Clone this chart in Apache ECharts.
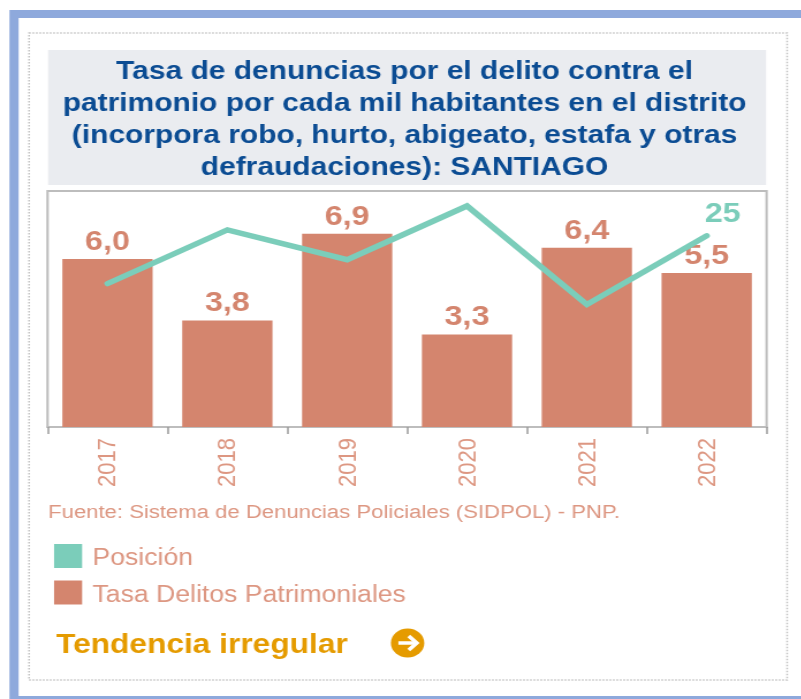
<!DOCTYPE html>
<html>
<head>
<meta charset="utf-8">
<style>
html,body{margin:0;padding:0;background:#fff;overflow:hidden;width:801px;height:699px}
#c{position:absolute;left:0;top:0;height:699px;transform-origin:0 0}
</style>
<script src="https://cdn.jsdelivr.net/npm/echarts@6/dist/echarts.min.js"></script>
</head>
<body>
<div id="c"></div>
<script>
const categories = ['2017','2018','2019','2020','2021','2022'];
const tasa = [6.0,3.8,6.9,3.3,6.4,5.5];
const posicion = [41,23,33,15,48,25];
const titleLines = [
  'Tasa de denuncias por el delito contra el',
  'patrimonio por cada mil habitantes en el distrito',
  '(incorpora robo, hurto, abigeato, estafa y otras',
  'defraudaciones): SANTIAGO'
];
const fuente = 'Fuente: Sistema de Denuncias Policiales (SIDPOL) - PNP.';
const tendencia = 'Tendencia irregular';

const S = 1.15;
const X = v => v / S;
const el = document.getElementById('c');
el.style.width = (801 / S) + 'px';
el.style.transform = 'scaleX(' + S + ')';
const FONT = '"Liberation Sans", Arial, sans-serif';
const SALMON = '#D4856E', SALMON_TXT = '#DD9782', TEAL = '#7BCDBA', BLUE = '#0B4C93', GOLD = '#E59B00';

const chart = echarts.init(el, null, {renderer:'canvas', width: 801 / S, height: 699});
chart.setOption({
  animation:false,
  textStyle:{fontFamily:FONT},
  title:{
    text:titleLines.join('\n'),
    left:X(404), top:55.5, textAlign:'center', padding:0,
    textStyle:{color:BLUE,fontFamily:FONT,fontWeight:'bold',fontSize:26,lineHeight:32}
  },
  legend:{
    orient:'vertical', left:X(54), top:544, padding:0,
    itemWidth:X(28), itemHeight:24, itemGap:10, icon:'rect',
    data:['Posición','Tasa Delitos Patrimoniales'],
    formatter:n=>'{a|'+n+'}',
    textStyle:{color:SALMON_TXT,fontSize:23.1,fontFamily:FONT,
      rich:{a:{color:SALMON_TXT,fontSize:23.1,fontFamily:FONT,padding:[6,0,0,4]}}}
  },
  grid:{left:X(47.5),top:191,width:X(718),height:236,show:true,borderColor:'#BDBDBD',borderWidth:2,backgroundColor:'#fff'},
  xAxis:{
    type:'category',data:categories,
    axisLine:{show:true,lineStyle:{color:'#BDBDBD',width:2}},
    axisTick:{show:true,length:7,lineStyle:{color:'#9A9A9A',width:1.5}},
    axisLabel:{rotate:90,color:SALMON_TXT,fontSize:22,margin:11,fontFamily:FONT,
      formatter:'{a|{value}}',
      rich:{a:{color:SALMON_TXT,fontSize:22,fontFamily:FONT,padding:[2,0,0,0]}}}
  },
  yAxis:[
    {type:'value',min:0,max:8.43,show:false,splitLine:{show:false}},
    {type:'value',min:10,max:89,inverse:true,show:false,splitLine:{show:false}}
  ],
  series:[
    {name:'Tasa Delitos Patrimoniales',type:'bar',data:tasa,barWidth:'75.3%',z:2,
     itemStyle:{color:SALMON},
     label:{show:true,position:'top',distance:3,color:SALMON,fontWeight:'bold',fontSize:28,fontFamily:FONT,
       formatter:p=>p.value.toFixed(1).replace('.',',')}},
    {name:'Posición',type:'line',yAxisIndex:1,data:posicion.map((v,i)=>i===posicion.length-1?{
        value:v,label:{show:true,position:'top',distance:7,offset:[X(16),0],color:TEAL,fontWeight:'bold',fontSize:28,fontFamily:FONT}}:v),
     symbol:'circle',symbolSize:1,showSymbol:true,z:3,itemStyle:{color:TEAL},lineStyle:{color:TEAL,width:5.5,cap:'round',join:'miter'}}
  ],
  graphic:[
    {type:'rect',z:-10,shape:{x:X(14),y:14,width:X(830),height:686},style:{fill:'#fff',stroke:'#8EA9DC',lineWidth:8}},
    {type:'rect',z:-9,shape:{x:X(29),y:33,width:X(757),height:647},style:{fill:'#fff',stroke:'#C4C4C4',lineWidth:1.5,lineDash:[1.5,1.5]}},
    {type:'rect',z:-8,shape:{x:X(48),y:50,width:X(717),height:135},style:{fill:'#EAECF0'}},
    {type:'text',z:5,x:X(48),y:513,style:{text:fuente,fill:SALMON_TXT,font:'19.2px '+FONT,textVerticalAlign:'middle'}},
    {type:'text',z:5,x:X(56),y:645.5,style:{text:tendencia,fill:GOLD,font:'bold 27.5px '+FONT,textVerticalAlign:'middle'}},
    {type:'group',z:5,x:X(407),y:643,children:[
      {type:'circle',shape:{cx:0,cy:0,r:14.5},style:{fill:GOLD}},
      {type:'polyline',shape:{points:[[-8,0],[7,0]]},style:{stroke:'#fff',lineWidth:3.5,fill:null}},
      {type:'polyline',shape:{points:[[1,-7],[8,0],[1,7]]},style:{stroke:'#fff',lineWidth:3.5,fill:null}}
    ]}
  ]
});
</script>
</body>
</html>
